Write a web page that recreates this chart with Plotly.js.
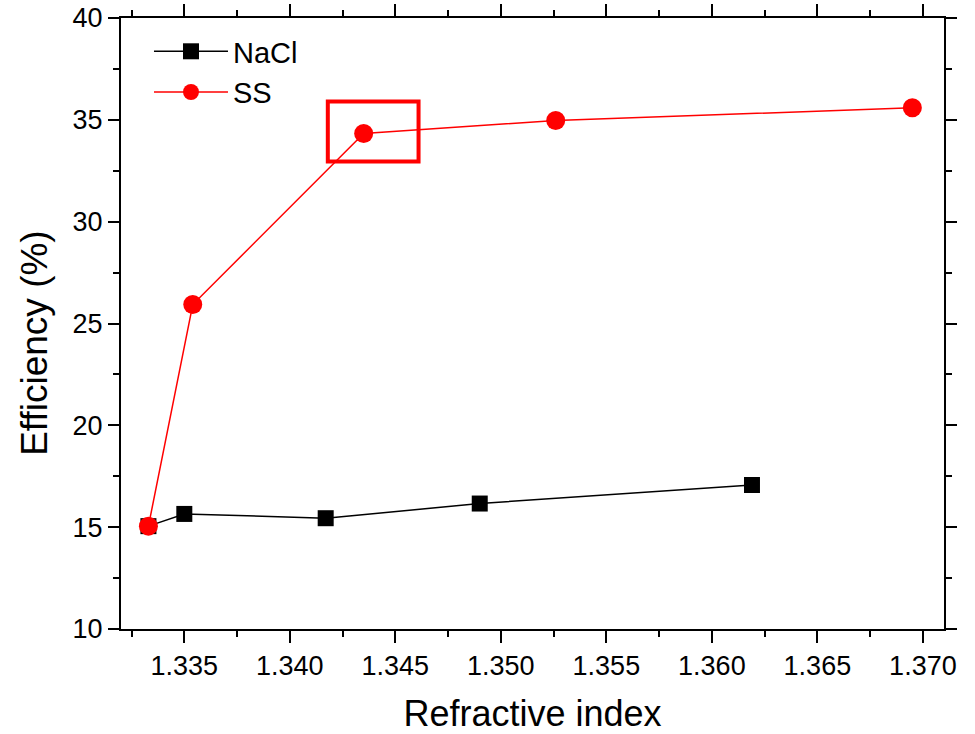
<!DOCTYPE html>
<html>
<head>
<meta charset="utf-8">
<script src="https://cdn.plot.ly/plotly-3.0.1.min.js"></script>
<style>
  html, body { margin: 0; padding: 0; background: #fff; }
  #chart { width: 975px; height: 734px; }
</style>
</head>
<body>
<div id="chart"></div>
<script>
// Refractive index vs. efficiency for NaCl and SS solutions
const naclIndex = [1.3333, 1.3350, 1.3417, 1.3490, 1.3619];
const naclEff   = [15.05, 15.65, 15.44, 16.16, 17.07];

const ssIndex = [1.3333, 1.3354, 1.3435, 1.3526, 1.3695];
const ssEff   = [15.05, 25.93, 34.33, 34.97, 35.59];

// Highlight box around the selected SS point
const boxX = [1.3418, 1.3461];
const boxY = [32.96, 35.9];

const xTicks = [1.335, 1.340, 1.345, 1.350, 1.355, 1.360, 1.365, 1.370];
const xTickText = ['1.335', '1.340', '1.345', '1.350', '1.355', '1.360', '1.365', '1.370'];

const font = 'Arial, "Liberation Sans", sans-serif';

const traces = [
  {
    x: naclIndex, y: naclEff, name: 'NaCl',
    mode: 'lines+markers', type: 'scatter',
    line: {color: '#000000', width: 1.5},
    marker: {symbol: 'square', size: 16, color: '#000000'}
  },
  {
    x: ssIndex, y: ssEff, name: 'SS',
    mode: 'lines+markers', type: 'scatter',
    line: {color: '#ff0000', width: 1.5},
    marker: {symbol: 'circle', size: 19, color: '#ff0000'}
  }
];

const axisCommon = {
  showgrid: false, zeroline: false,
  showline: true, linecolor: '#000', linewidth: 2,
  mirror: 'ticks', ticks: 'outside', tickcolor: '#000', tickwidth: 2,
  tickfont: {family: font, size: 27, color: '#000'}
};

const layout = {
  width: 975, height: 734,
  margin: {l: 121, r: 31, t: 18, b: 105},
  paper_bgcolor: '#fff', plot_bgcolor: '#fff',
  showlegend: true,
  legend: {
    x: 0.034, y: 0.987, xanchor: 'left', yanchor: 'top',
    bgcolor: 'rgba(0,0,0,0)', borderwidth: 0,
    font: {family: font, size: 29, color: '#000'},
    itemwidth: 74, tracegroupgap: 0
  },
  xaxis: Object.assign({}, axisCommon, {
    range: [1.332, 1.371],
    tickmode: 'array',
    tickvals: xTicks,
    ticktext: xTickText,
    ticklen: 12,
    minor: {dtick: 0.005, tick0: 1.3325, ticks: 'outside', ticklen: 6, tickwidth: 2, tickcolor: '#000'},
    title: {text: 'Refractive index', font: {family: font, size: 36, color: '#000'}, standoff: 22}
  }),
  yaxis: Object.assign({}, axisCommon, {
    range: [10, 40],
    dtick: 5, tick0: 10,
    ticklen: 11,
    minor: {dtick: 2.5, ticks: 'outside', ticklen: 6, tickwidth: 2, tickcolor: '#000'}
  }),
  // y-axis label, set slightly below the vertical centre of the plot
  annotations: [{
    text: 'Efficiency (%)', xref: 'paper', yref: 'paper',
    x: -0.106, y: 0.468, xanchor: 'center', yanchor: 'middle',
    textangle: -90, showarrow: false,
    font: {family: font, size: 37, color: '#000'}
  }],
  shapes: [{
    type: 'rect', xref: 'x', yref: 'y',
    x0: boxX[0], x1: boxX[1], y0: boxY[0], y1: boxY[1],
    line: {color: '#ff0000', width: 4}
  }]
};

Plotly.newPlot('chart', traces, layout, {staticPlot: true});
</script>
</body>
</html>
